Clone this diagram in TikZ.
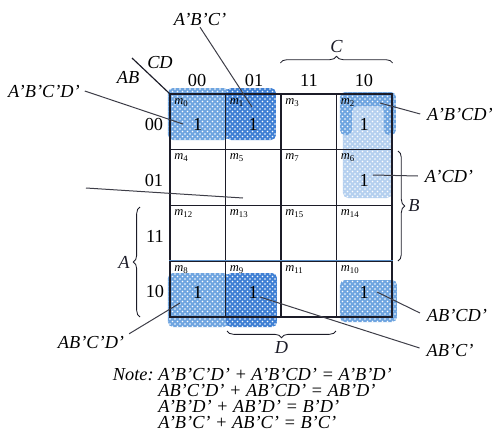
\documentclass[tikz,border=0pt]{standalone}
\usepackage{fontspec}
\setmainfont{Liberation Serif}
\usetikzlibrary{positioning, patterns, decorations.pathreplacing, calc}
\definecolor{kmblue}{HTML}{3F80D4}
\definecolor{kmlight}{HTML}{6FA5E0}
\definecolor{kmpale}{HTML}{B5D0EF}
\definecolor{kmdark}{HTML}{1C1C28}
\definecolor{kmline}{HTML}{5A8EC6}
\tikzset{
  cell/.style={rectangle, draw=kmdark, line width=0.75pt, minimum width=33.3pt,
    minimum height=33.45pt, inner sep=0pt},
  hdr/.style={font=\fontsize{11}{12}\selectfont, inner sep=1pt},
  lbl/.style={font=\itshape\fontsize{11}{12}\selectfont, inner sep=1pt},
  mterm/.style={font=\itshape\fontsize{7.5}{8}\selectfont, anchor=north west, inner sep=1pt},
  one/.style={font=\fontsize{11}{12}\selectfont, inner sep=0pt},
  ptr/.style={line width=0.6pt, kmdark!85},
  brc/.style={decorate, decoration={brace, amplitude=4pt}, line width=0.5pt, kmdark},
  grp/.style={rounded corners=3pt, fill=#1, postaction={pattern=crosshatch dots, pattern color=white}},
  eqn/.style={font=\itshape\fontsize{11}{12}\selectfont, anchor=west, inner sep=0pt,
    text height=7pt, text depth=1pt},
}

\begin{document}
\begin{tikzpicture}[x=0.6pt, y=-0.6pt]
    \useasboundingbox (0,0) rectangle (494,439);
    % Shaded groups
    \path[grp=kmpale] (343,100) rectangle (392,198);
    \path[grp=kmlight] (340,92) -- (396,92) -- (396,135) -- (384,135) -- (384,106)
        -- (352,106) -- (352,135) -- (340,135) -- cycle;
    \path[grp=kmlight] (168,88) rectangle (229,140);
    \path[grp=kmblue] (226,88) rectangle (276,140);
    \path[grp=kmlight] (168,273) rectangle (229,327);
    \path[grp=kmblue] (226,273) rectangle (277,327);
    \path[grp=kmlight] (340,280) rectangle (397,322);

    % Cells
    \foreach \r/\y [count=\j from 0] in {0/121.9, 1/177.6, 3/233.4, 2/289.1} {
      \foreach \c/\x in {0/197.75, 1/253.25, 3/308.75, 2/364.25} {
        \node[cell] (c\r\c) at (\x,\y) {};
        \pgfmathtruncatemacro{\mnum}{4*\r+\c}
        \node[mterm] at ($(c\r\c.north west)+(3,3)$) {m\textsubscript{\upshape\mnum}};
      }
    }
    \draw[kmline, line width=0.9pt] (c20.north west) -- (c22.north east);

    % Ones
    \foreach \k in {00, 01, 02, 12, 20, 21, 22}
      \node[one] at ($(c\k)+(0,3)$) {1};

    % Headers
    \node[hdr] (h00) at (197,80) {00};
    \node[hdr] (h01) at (254,80) {01};
    \node[hdr] (h11) at (309,80) {11};
    \node[hdr] (h10) at (364,80) {10};
    \node[hdr] (v00) at (154,124) {00};
    \node[hdr] (v01) at (154,180) {01};
    \node[hdr] (v11) at (155,236) {11};
    \node[hdr] (v10) at (155,291) {10};
    \coordinate (corner) at (132,58);
    \draw[line width=0.7pt, kmdark] (corner) -- (c00.north west);
    \node[lbl] (vAB) at (128,77) {AB};
    \node[lbl] (vCD) at (160,63) {CD};

    % Braces
    \draw[brc] (c03.north west |- 0,63) -- (c02.north east |- 0,63)
        node[midway, above=5pt, lbl] (bC) {C};
    \draw[brc] (398,151) -- (398,261) node[midway, right=5pt, lbl] (bB) {B};
    \draw[brc] (140,317) -- (140,207) node[midway, left=5pt, lbl] (bA) {A};
    \draw[brc] (336,331) -- (227,331) node[midway, below=5pt, lbl] (bD) {D};

    % Term labels
    \node[lbl] (tABC) at (200,19) {A'B'C'};
    \node[lbl] (tABCD) at (44,91) {A'B'C'D'};
    \node[lbl] (tABCDb) at (460,114) {A'B'CD'};
    \node[lbl] (tACD) at (449,176) {A'CD'};
    \node[lbl] (tAbCD) at (91,342) {AB'C'D'};
    \node[lbl] (tAbcd) at (457,315) {AB'CD'};
    \node[lbl] (tAbc) at (450,350) {AB'C'};
    \coordinate (e1) at (252,107);
    \coordinate (e2) at (183,124);
    \coordinate (e3) at (380,103);
    \coordinate (e4) at (373,175);
    \coordinate (e5) at (180,303);
    \coordinate (e6) at (377,292);
    \coordinate (e7) at (260,297);
    \coordinate (s8) at (86,188);
    \coordinate (e8) at (243,198);
    \draw[ptr] (tABC.south) -- (e1);
    \draw[ptr] ($(tABCD.east)+(3,0)$) -- (e2);
    \draw[ptr] ($(tABCDb.west)+(-5,0)$) -- (e3);
    \draw[ptr] ($(tACD.west)+(-5,0)$) -- (e4);
    \draw[ptr] ($(tAbCD.north east)+(3,0)$) -- (e5);
    \draw[ptr] ($(tAbcd.west)+(-5,-2)$) -- (e6);
    \draw[ptr] ($(tAbc.west)+(-5,-2)$) -- (e7);
    \draw[ptr] (s8) -- (e8);

    % Note
    \node[eqn, anchor=east] (note) at (154,375) {Note:};
    \node[eqn] (eq1) at (158,375) {A'B'C'D' + A'B'CD' = A'B'D'};
    \node[eqn] (eq2) at (158,391) {AB'C'D' + AB'CD' = AB'D'};
    \node[eqn] (eq3) at (158,407) {A'B'D' + AB'D' = B'D'};
    \node[eqn] (eq4) at (158,423) {A'B'C' + AB'C' = B'C'};
\end{tikzpicture}
\end{document}
